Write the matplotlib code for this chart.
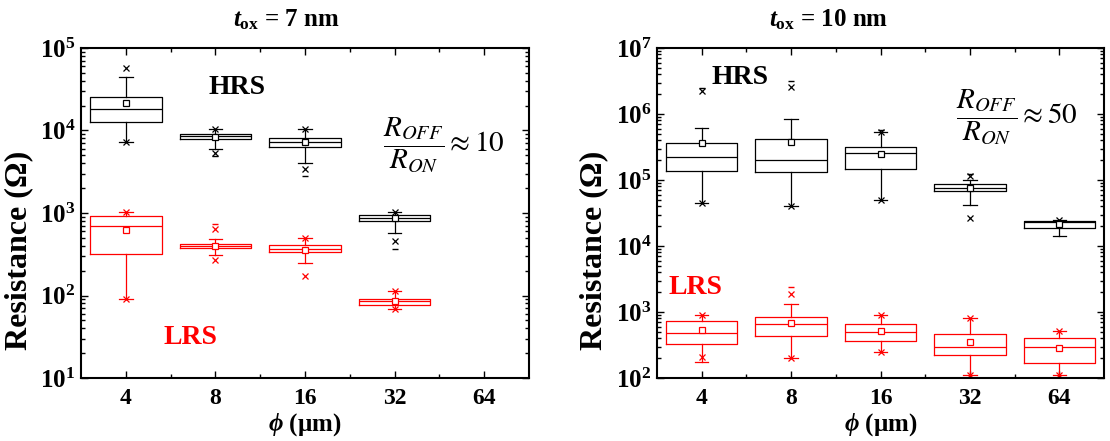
import math
import matplotlib
matplotlib.use("Agg")
import matplotlib.pyplot as plt
from matplotlib.ticker import LogLocator, FixedLocator, FuncFormatter, NullFormatter

plt.rcParams['font.family'] = ['Liberation Serif', 'DejaVu Serif']
plt.rcParams['mathtext.fontset'] = 'custom'
plt.rcParams['mathtext.rm'] = 'Liberation Serif:bold'
plt.rcParams['mathtext.it'] = 'Liberation Serif:italic:bold'
plt.rcParams['mathtext.bf'] = 'Liberation Serif:bold'

# ---- data ---------------------------------------------------------------
diameters = ['4', '8', '16', '32', '64']

# t_ox = 7 nm  (no 64 um devices)
hrs7_pos = [1, 2, 3, 4]
hrs7_whislo = [7190, 5970, 4000, 567]
hrs7_q1 = [12800, 7820, 6260, 793]
hrs7_med = [18200, 8460, 7190, 870]
hrs7_q3 = [25700, 9150, 8040, 953]
hrs7_whishi = [44900, 10400, 10400, 1037]
hrs7_mean = [21800, 8450, 7190, 870]
hrs7_pct = [[7190, 56500], [5380, 10400], [3440, 10400], [462, 1037]]
hrs7_minmax = [[], [4910], [2830], [363]]

lrs7_pos = [1, 2, 3, 4]
lrs7_whislo = [89.9, 310, 245, 68.6]
lrs7_q1 = [318, 373, 337, 76.7]
lrs7_med = [696, 395, 369, 85.8]
lrs7_q3 = [912, 417, 406, 90.7]
lrs7_whishi = [1037, 480, 494, 113.4]
lrs7_mean = [617, 395, 359, 85.8]
lrs7_pct = [[89.9, 1037], [267, 640], [172, 494], [68.6, 113.4]]
lrs7_minmax = [[], [730], [], []]

# t_ox = 10 nm
hrs10_pos = [1, 2, 3, 4, 5]
hrs10_whislo = [44800, 39800, 49800, 41200, 14000]
hrs10_q1 = [138000, 130000, 148000, 68100, 18500]
hrs10_med = [223000, 203000, 257000, 76000, 22800]
hrs10_q3 = [359000, 418000, 316000, 85800, 23900]
hrs10_whishi = [605000, 828000, 526000, 98600, 25000]
hrs10_mean = [359000, 376000, 248000, 76400, 21500]
hrs10_pct = [[44800, 2250000], [39800, 2530000], [49800, 526000],
             [26600, 113000], [25000]]
hrs10_minmax = [[2500000], [3120000], [578000], [122000], []]

lrs10_pos = [1, 2, 3, 4, 5]
lrs10_whislo = [177, 201, 250, 111, 111]
lrs10_q1 = [327, 433, 364, 220, 171]
lrs10_med = [474, 649, 491, 295, 290]
lrs10_q3 = [720, 829, 649, 458, 398]
lrs10_whishi = [901, 1304, 901, 820, 515]
lrs10_mean = [534, 672, 515, 355, 288]
lrs10_pct = [[205, 901], [201, 1874], [250, 901], [111, 820], [111, 515]]
lrs10_minmax = [[], [2420], [], [], []]


def draw_boxes(ax, pos, wlo, q1, med, q3, whi, mean, pct, minmax, color):
    stats = []
    for i in range(len(pos)):
        stats.append(dict(whislo=wlo[i], q1=q1[i], med=med[i], q3=q3[i],
                          whishi=whi[i], mean=mean[i], fliers=pct[i]))
    lw = 0.9
    ax.bxp(stats, positions=pos, widths=0.8, capwidths=0.15,
           showmeans=True, meanline=False, manage_ticks=False,
           boxprops=dict(color=color, lw=lw),
           medianprops=dict(color=color, lw=lw),
           whiskerprops=dict(color=color, lw=lw),
           capprops=dict(color=color, lw=lw),
           flierprops=dict(marker='x', mec=color, ms=5, mew=0.9),
           meanprops=dict(marker='s', mfc='white', mec=color, ms=4, mew=0.9))
    for p, vals in zip(pos, minmax):
        if vals:
            ax.plot([p] * len(vals), vals, ls='none', marker='_',
                    ms=5, mew=1.0, color=color)


def style_axes(ax, ylo, yhi, label_x):
    ax.set_yscale('log')
    ax.set_ylim(ylo, yhi)
    ax.set_xlim(0.5, 5.5)
    ax.xaxis.set_major_locator(FixedLocator([1, 2, 3, 4, 5]))
    ax.xaxis.set_minor_locator(FixedLocator([1.5, 2.5, 3.5, 4.5]))
    ax.set_xticklabels(diameters, fontweight='bold')
    ax.yaxis.set_major_locator(LogLocator(base=10, numticks=20))
    ax.yaxis.set_minor_locator(LogLocator(base=10, subs=range(2, 10), numticks=20))
    ax.yaxis.set_minor_formatter(NullFormatter())
    ax.yaxis.set_major_formatter(
        FuncFormatter(lambda v, _: r'$\mathbf{10^{%d}}$' % round(math.log10(v))))
    ax.tick_params(axis='both', which='both', direction='in', top=True, right=True, width=1.0)
    ax.tick_params(axis='both', which='major', length=5)
    ax.tick_params(axis='both', which='minor', length=3)
    ax.tick_params(axis='y', which='major', labelsize=18, pad=4)
    ax.tick_params(axis='x', which='major', labelsize=17, pad=7)
    for s in ax.spines.values():
        s.set_linewidth(1.5)
    ax.set_ylabel('Resistance (Ω)', fontsize=23, fontweight='bold')
    ax.yaxis.set_label_coords(label_x, 0.388)
    ax.set_xlabel(r'$\mathit{\phi}$ (μm)', fontsize=18, fontweight='bold', labelpad=2)


fig = plt.figure(figsize=(11.1, 4.41), dpi=100)
ax1 = fig.add_axes([81 / 1110, 63 / 441, 448 / 1110, 330 / 441])
ax2 = fig.add_axes([657 / 1110, 63 / 441, 447 / 1110, 330 / 441])

draw_boxes(ax1, hrs7_pos, hrs7_whislo, hrs7_q1, hrs7_med, hrs7_q3, hrs7_whishi,
           hrs7_mean, hrs7_pct, hrs7_minmax, 'black')
draw_boxes(ax1, lrs7_pos, lrs7_whislo, lrs7_q1, lrs7_med, lrs7_q3, lrs7_whishi,
           lrs7_mean, lrs7_pct, lrs7_minmax, 'red')
draw_boxes(ax2, hrs10_pos, hrs10_whislo, hrs10_q1, hrs10_med, hrs10_q3, hrs10_whishi,
           hrs10_mean, hrs10_pct, hrs10_minmax, 'black')
draw_boxes(ax2, lrs10_pos, lrs10_whislo, lrs10_q1, lrs10_med, lrs10_q3, lrs10_whishi,
           lrs10_mean, lrs10_pct, lrs10_minmax, 'red')

style_axes(ax1, 1e1, 1e5, -0.107)
style_axes(ax2, 1e2, 1e7, -0.110)

# panel titles
fig.text(286 / 1110, 1 - 20 / 441, r'$\mathit{t}_{\mathrm{ox}}$ = 7 nm', fontsize=18,
         fontweight='bold', ha='center', va='center')
fig.text(829 / 1110, 1 - 20 / 441, r'$\mathit{t}_{\mathrm{ox}}$ = 10 nm', fontsize=18,
         fontweight='bold', ha='center', va='center')

# state labels
fig.text(237 / 1110, 1 - 88 / 441, 'HRS', fontsize=20,
         fontweight='bold', color='black', ha='center', va='center')
fig.text(190 / 1110, 1 - 337 / 441, 'LRS', fontsize=20,
         fontweight='bold', color='red', ha='center', va='center')
fig.text(740 / 1110, 1 - 77 / 441, 'HRS', fontsize=20,
         fontweight='bold', color='black', ha='center', va='center')
fig.text(695 / 1110, 1 - 287 / 441, 'LRS', fontsize=20,
         fontweight='bold', color='red', ha='center', va='center')

# on/off ratio
fig.text(444 / 1110, 1 - 145 / 441, r'$\dfrac{R_{OFF}}{R_{ON}} \approx 10$',
         math_fontfamily='stix', fontsize=21, fontweight='normal',
         ha='center', va='center')
fig.text(1017 / 1110, 1 - 117 / 441, r'$\dfrac{R_{OFF}}{R_{ON}} \approx 50$',
         math_fontfamily='stix', fontsize=21, fontweight='normal',
         ha='center', va='center')

fig.savefig('out.png', dpi=100)
